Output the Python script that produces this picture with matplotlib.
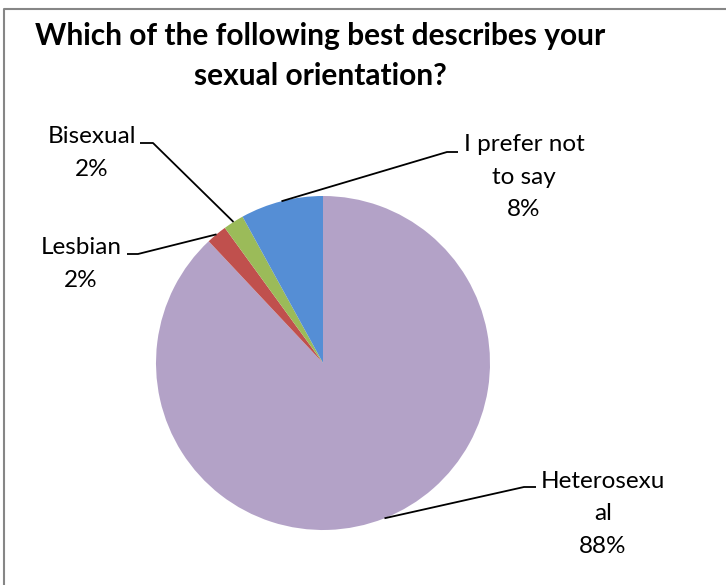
import matplotlib.pyplot as plt
import numpy as np

# survey answers, in the order they are drawn clockwise from 12 o'clock
answers = ["Heterosexual", "Lesbian", "Bisexual", "I prefer not to say"]
shares = [88, 2, 2, 8]
label_text = ["Heterosexu\nal\n88%", "Lesbian\n2%", "Bisexual\n2%", "I prefer not\nto say\n8%"]
colors = ["#B3A2C7", "#C0504D", "#9BBB59", "#558ED5"]

W, H = 726, 585
plt.rcParams['font.family'] = ['Lato', 'DejaVu Sans']

fig = plt.figure(figsize=(W / 100, H / 100), dpi=100)
ax = fig.add_axes([0, 0, 1, 1])

# pixel-like coordinates: y measured from the top
cx, cy, r = 323, 363, 167
wedges, _ = ax.pie(shares, colors=colors, startangle=90, counterclock=False,
                   center=(cx, H - cy), radius=r, wedgeprops=dict(linewidth=0))
ax.set_xlim(0, W)
ax.set_ylim(0, H)
ax.set_aspect('equal')
ax.axis('off')

# leader elbows and label centres (x, y from top)
elbow = {
    "Heterosexual": [(524, 487), (536, 487)],
    "Lesbian": [(138, 254), (127, 254)],
    "Bisexual": [(153, 143), (140, 143)],
    "I prefer not to say": [(447, 152), (458, 152)],
}
label_pos = {
    "Heterosexual": (603, 514),
    "Lesbian": (81, 264),
    "Bisexual": (92, 153),
    "I prefer not to say": (524, 177),
}

for w, name, txt in zip(wedges, answers, label_text):
    mid = np.deg2rad((w.theta1 + w.theta2) / 2)
    x0 = cx + r * np.cos(mid)
    y0 = H - cy + r * np.sin(mid)
    pts = [(x0, y0)] + [(x, H - y) for x, y in elbow[name]]
    xs, ys = zip(*pts)
    ax.plot(xs, ys, color="black", lw=1.3, solid_capstyle='butt')
    lx, ly = label_pos[name]
    ax.text(lx, H - ly, txt, ha='center', va='center', fontsize=17.5,
            linespacing=1.65, color="black")

fig.text(320 / W, 1 - 56 / H, "Which of the following best describes your\nsexual orientation?",
         ha='center', va='center', fontsize=21.5, fontweight='bold', linespacing=1.55)

# chart frame (left and top edges visible)
ax.plot([4, 4, 726], [0, H - 9, H - 9], color="#868686", lw=1.5)

fig.savefig("out.png", dpi=100)
